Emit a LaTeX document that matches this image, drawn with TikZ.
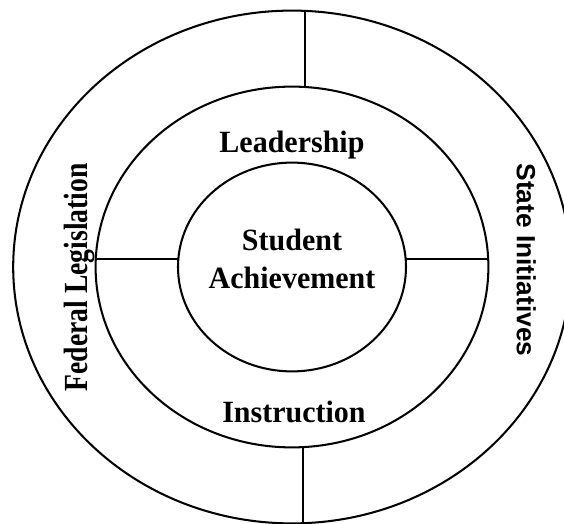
\documentclass[tikz,border=0pt]{standalone}
\usepackage{fontspec}
\setmainfont{Liberation Serif}
\newfontfamily\ringsans{Liberation Sans}
\usetikzlibrary{shapes.geometric}

\tikzset{
  ring/.style={draw, ellipse, line width=1.45pt, inner sep=0pt, outer sep=0pt},
  spoke/.style={line width=1.45pt},
  ringlabel/.style={font=\fontsize{22}{27}\selectfont\bfseries, xscale=0.97, align=center},
  sidelabel/.style={font=\fontsize{24}{28}\selectfont\bfseries, rotate=90, xscale=0.82, anchor=base},
  statelabel/.style={font=\ringsans\fontsize{18.7}{22}\selectfont\bfseries, rotate=-90, anchor=base}
}

\begin{document}
\begin{tikzpicture}
    \coordinate (Origin) at (0,0);
    \useasboundingbox (-7.3,-6.425) rectangle (6.8,6.675);
    \clip (-7.3,-6.425) rectangle (6.8,6.675); % outer ring runs off on the right

    % three rings, slightly wider than tall
    \node[ring, minimum width=13.94cm, minimum height=12.82cm] (Outer) at (Origin) {};
    \node[ring, minimum width=9.82cm, minimum height=9.02cm] (Middle) at (Origin) {};
    \node[ring, minimum width=5.7cm, minimum height=5.22cm] (Inner) at (Origin) {};

    % dividers between the rings
    \draw[spoke] ([xshift=3.25mm]Outer.north) -- ([xshift=3.25mm]Middle.north);
    \draw[spoke] ([xshift=2.75mm]Middle.south) -- ([xshift=2.75mm]Outer.south);
    \draw[spoke] ([yshift=2mm]Middle.west) -- ([yshift=2mm]Inner.west);
    \draw[spoke] ([yshift=2mm]Inner.east) -- ([yshift=2mm]Middle.east);

    % labels
    \node[ringlabel] (Goal) at (0,0.21) {Student\\Achievement};
    \node[ringlabel, anchor=base] (Lead) at (0,2.85) {Leadership};
    \node[ringlabel, anchor=base] (Instr) at (0.05,-3.9) {Instruction};
    \node[sidelabel] (Fed) at (-5.1,-0.26) {Federal Legislation};
    \node[statelabel] (State) at (5.625,0.175) {State Initiatives};
\end{tikzpicture}
\end{document}
